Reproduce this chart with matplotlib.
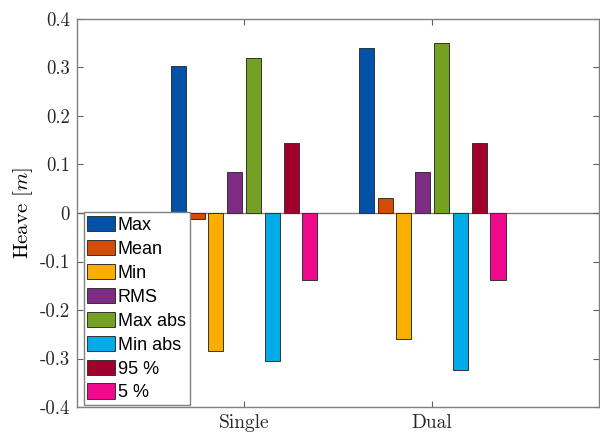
import matplotlib.pyplot as plt
import numpy as np

plt.rcParams['mathtext.fontset'] = 'cm'

groups = ['Single', 'Dual']
series = ['Max', 'Mean', 'Min', 'RMS', 'Max abs', 'Min abs', '95 %', '5 %']
values = {
    'Max':     [0.303, 0.340],
    'Mean':    [-0.012, 0.031],
    'Min':     [-0.284, -0.260],
    'RMS':     [0.085, 0.084],
    'Max abs': [0.320, 0.350],
    'Min abs': [-0.305, -0.323],
    '95 %':    [0.144, 0.144],
    '5 %':     [-0.138, -0.138],
}
colors = ['#0451A8', '#D24D05', '#FCAE00', '#7E2B83', '#74A024',
          '#00ABE8', '#A0002C', '#F00A8E']
yticks = [-0.4, -0.3, -0.2, -0.1, 0, 0.1, 0.2, 0.3, 0.4]
ytick_labels = ['-0.4', '-0.3', '-0.2', '-0.1', '0', '0.1', '0.2', '0.3', '0.4']

fig = plt.figure(figsize=(6, 4.37), dpi=100)
ax = fig.add_axes([0.128, 0.0686, 0.871, 0.888])

x = np.arange(1, len(groups) + 1)
step = 0.1
handles = []
for i, name in enumerate(series):
    off = (i - (len(series) - 1) / 2) * step
    h = ax.bar(x + off, values[name], width=0.08, color=colors[i],
               edgecolor='#333333', linewidth=0.7, label=name, zorder=2)
    handles.append(h)

ax.axhline(0, color='#808080', linewidth=1.0, zorder=1)
ax.set_xlim(0.111, 2.889)
ax.set_ylim(-0.4, 0.4)
ax.set_xticks(x)
ax.set_xticklabels(groups, fontfamily='cmr10', fontsize=14)
ax.set_yticks(yticks)
ax.set_yticklabels(ytick_labels, fontfamily='cmr10', fontsize=13.5)
ax.set_ylabel('Heave [$m$]', fontfamily='cmr10', fontsize=15, labelpad=3)

for s in ax.spines.values():
    s.set_color('#808080')
    s.set_linewidth(1.0)
ax.tick_params(direction='in', length=4, width=0.8, color='#606060',
               top=True, right=True, labelcolor='#262626', pad=5)

leg = ax.legend(handles=handles, loc='lower left', bbox_to_anchor=(0.013, 0.005),
                borderaxespad=0, fancybox=False, framealpha=1,
                edgecolor='#808080', handlelength=1.55,
                handleheight=0.95, handletextpad=0.15, labelspacing=0.33,
                borderpad=0.2, prop={'family': 'Liberation Sans', 'size': 13})
leg.get_frame().set_linewidth(1.0)

fig.savefig('out.png', dpi=100)
